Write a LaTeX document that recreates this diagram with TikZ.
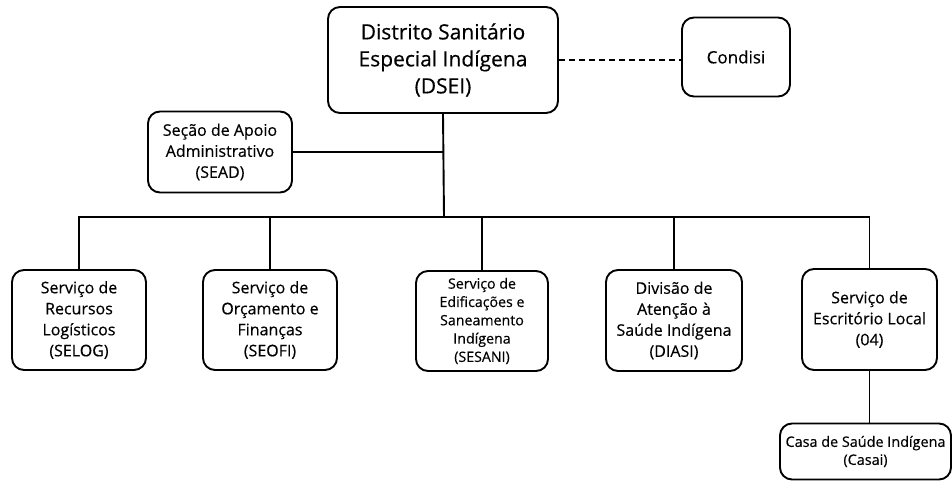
\documentclass[tikz,border=0pt]{standalone}
\usepackage{fontspec}
\setmainfont{Open Sans}[FakeBold=0.4]
\usepackage{tikz}
\usetikzlibrary{positioning}

\begin{document}
\begin{tikzpicture}[x=1pt,y=-1pt,
  unit/.style={draw,line width=1.9pt,rounded corners=12pt,align=center,
    inner sep=2pt,font=\fontsize{16}{21}\selectfont},
  link/.style={line width=1.9pt}]
  \useasboundingbox (0,0) rectangle (952,481);
  % direção
  \node[unit,minimum width=230pt,minimum height=106pt,
    font=\fontsize{21}{27}\selectfont] (dsei) at (443,60)
    {Distrito Sanitário\\Especial Indígena\\(DSEI)};
  \node[unit,minimum width=108pt,minimum height=79pt,
    font=\fontsize{17}{21}\selectfont] (condisi) at (736,57) {Condisi};
  \node[unit,minimum width=144pt,minimum height=81pt] (sead) at (220,152)
    {Seção de Apoio\\Administrativo\\(SEAD)};
  % serviços
  \node[unit,minimum width=134pt,minimum height=100pt] (selog) at (79,320)
    {Serviço de\\Recursos\\Logísticos\\(SELOG)};
  \node[unit,minimum width=134pt,minimum height=100pt] (seofi) at (270,320)
    {Serviço de\\Orçamento e\\Finanças\\(SEOFI)};
  \node[unit,minimum width=132pt,minimum height=100pt,
    font=\fontsize{14.2}{18.3}\selectfont] (sesani) at (482,321)
    {Serviço de\\Edificações e\\Saneamento\\Indígena\\(SESANI)};
  \node[unit,minimum width=136pt,minimum height=101pt] (diasi) at (674,320.5)
    {Divisão de\\Atenção à\\Saúde Indígena\\(DIASI)};
  \node[unit,minimum width=135pt,minimum height=101pt] (esl) at (869.5,319.5)
    {Serviço de\\Escritório Local\\(04)};
  \node[unit,minimum width=171pt,minimum height=56pt,inner sep=0pt,
    font=\fontsize{14.4}{18}\selectfont] (casai) at (865.5,451.5)
    {Casa de Saúde Indígena\\(Casai)};
  % ligações
  \coordinate (bus) at (444,217);
  \draw[link,dashed,dash pattern=on 6pt off 4pt] (dsei.east) -- (dsei.east -| condisi.west);
  \draw[link] (dsei.south) -- (bus);
  \draw[link] (sead.east) -- (sead.east -| dsei.south);
  \draw[link] (selog.north) -- (selog.north |- bus) -- (esl.north |- bus) -- (esl.north);
  \foreach \n in {seofi,sesani,diasi}
    \draw[link] (\n.north) -- (\n.north |- bus);
  \draw[link] (esl.south) -- (esl.south |- casai.north);
\end{tikzpicture}
\end{document}
